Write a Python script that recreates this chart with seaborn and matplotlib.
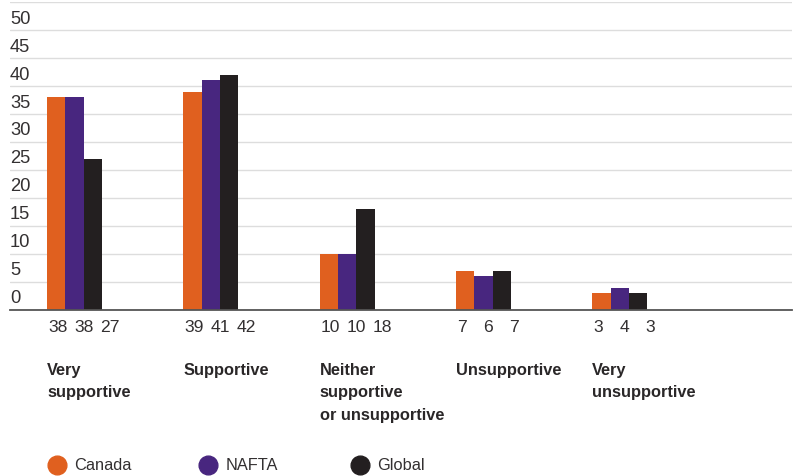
import matplotlib
matplotlib.use("Agg")
import matplotlib.pyplot as plt
import matplotlib.transforms as mtransforms
from matplotlib.lines import Line2D
import seaborn as sns
import pandas as pd
import numpy as np

categories = ["Very\nsupportive", "Supportive", "Neither\nsupportive\nor unsupportive",
              "Unsupportive", "Very\nunsupportive"]
regions = ["Canada", "NAFTA", "Global"]
canada = [38, 39, 10, 7, 3]
nafta = [38, 41, 10, 6, 4]
global_ = [27, 42, 18, 7, 3]
ytick_labels = ["0", "5", "10", "15", "20", "25", "30", "35", "40", "45", "50"]
colors = ["#E0601F", "#48267F", "#231F20"]

rows = []
for reg, vals in zip(regions, [canada, nafta, global_]):
    for c, v in zip(categories, vals):
        rows.append({"category": c, "region": reg, "value": v})
df = pd.DataFrame(rows)

sns.set_theme(style="white")
plt.rcParams["font.family"] = ["Liberation Sans", "DejaVu Sans"]
TXT = "#2a2728"

fig = plt.figure(figsize=(8.07, 4.77), dpi=100)
ax = fig.add_axes([10 / 807, 166 / 477, 782 / 807, 308 / 477])

W = 0.403
sns.barplot(data=df, x="category", y="value", hue="region", order=categories,
            hue_order=regions, palette=colors, width=W, saturation=1, gap=0,
            linewidth=0, legend=False, ax=ax)

ax.set_xlim(-0.473, 5.264)
ax.set_ylim(0, 55)
ax.set_xlabel("")
ax.set_ylabel("")
ax.set_xticks([])
ax.set_yticks(np.arange(0, 56, 5))
ax.set_yticklabels([])
ax.set_yticks(np.arange(2.5, 53, 5), minor=True)
ax.set_yticklabels(ytick_labels, minor=True)
ax.tick_params(axis="y", which="both", length=0, pad=0)
for lbl in ax.get_yticklabels(minor=True):
    lbl.set_horizontalalignment("left")
    lbl.set_fontsize(13.2)
    lbl.set_color("#333031")
ax.yaxis.grid(True, which="major", color="#DDDDDD", linewidth=1)
ax.set_axisbelow(True)
for s in ["left", "right", "top"]:
    ax.spines[s].set_visible(False)
ax.spines["bottom"].set_color("#555555")
ax.spines["bottom"].set_linewidth(1.3)

trans = mtransforms.blended_transform_factory(ax.transData, fig.transFigure)
offsets = [1 / 136.3, 27 / 136.3, 53 / 136.3]
for i, c in enumerate(categories):
    left = i - W / 2
    for j, vals in enumerate([canada, nafta, global_]):
        ax.text(left + offsets[j], (477 - 332) / 477, str(vals[i]), transform=trans,
                ha="left", va="baseline", fontsize=12.6, color="#333031")
    ax.text(left, (477 - 363) / 477, c, transform=trans, ha="left", va="top",
            fontsize=11.8, fontweight="bold", color=TXT, linespacing=1.62)

# legend
leg_y = (477 - 466) / 477
marker_x = [57, 208, 360]
text_x = [74, 226, 377]
for reg, col, mx, tx in zip(regions, colors, marker_x, text_x):
    fig.add_artist(Line2D([mx / 807], [leg_y], marker="o", markersize=13.5,
                          color=col, linestyle="none", transform=fig.transFigure))
    fig.text(tx / 807, leg_y, reg, ha="left", va="center", fontsize=11.8,
             color="#333031")

fig.savefig("out.png", dpi=100, facecolor="white")
